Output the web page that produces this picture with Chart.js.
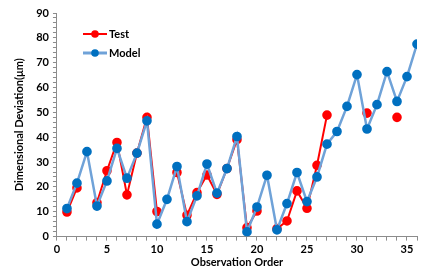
<!DOCTYPE html>
<html>
<head>
<meta charset="utf-8">
<script src="https://cdn.jsdelivr.net/npm/chart.js@4"></script>
<style>
  html, body { margin: 0; padding: 0; background: #fff; }
  #wrap { width: 432px; height: 274px; }
</style>
</head>
<body>
<div id="wrap"><canvas id="chart" width="432" height="274"></canvas></div>
<script>
const order = [1, 2, 3, 4, 5, 6, 7, 8, 9, 10, 11, 12, 13, 14, 15, 16, 17, 18,
    19, 20, 21, 22, 23, 24, 25, 26, 27, 28, 29, 30, 31, 32, 33, 34, 35, 36];
const testValues = [9.9, 19.6, null, 13.7, 26.5, 37.9, 16.8, 33.6, 48, 10.1, null, 25.8,
    8.6, 17.7, 24.8, 17, 27.4, 39, 3.6, 10.3, null, 3.2, 6.3, 18.4, 11.4, 28.7, 48.9,
    null, null, null, 49.7, null, null, 48, null, null];
const modelValues = [11.3, 21.5, 34.2, 12.3, 22.4, 35.5, 23.5, 33.6, 46.6, 5, 15, 28.2,
    6, 16.4, 29.2, 17.5, 27.4, 40.3, 1.9, 11.9, 24.7, 2.7, 13.3, 25.8, 14.1, 24, 37.2,
    42.3, 52.4, 65.2, 43.3, 53.1, 66.4, 54.4, 64.4, 77.5];
const xTickLabels = [0, 5, 10, 15, 20, 25, 30, 35];
const yTickLabels = [0, 10, 20, 30, 40, 50, 60, 70, 80, 90];

const toPoints = vals => order.map((x, i) => ({ x: x, y: vals[i] }));
const fontFamily = 'Lato, "Liberation Sans", sans-serif';
const axisGray = '#8c8c8c';

// legend drawn inside the plot, top-left
const insideLegend = {
    id: 'insideLegend',
    afterDraw(chart) {
        const ctx = chart.ctx;
        const items = [
            { text: 'Test', line: '#ff0000', dot: '#ff0000', lw: 2, y: 34 },
            { text: 'Model', line: '#6fa2d8', dot: '#0070c0', lw: 3, y: 53 }
        ];
        ctx.save();
        items.forEach(it => {
            ctx.strokeStyle = it.line;
            ctx.lineWidth = it.lw;
            ctx.beginPath();
            ctx.moveTo(83, it.y);
            ctx.lineTo(107, it.y);
            ctx.stroke();
            ctx.fillStyle = it.dot;
            ctx.beginPath();
            ctx.arc(95, it.y, 3.8, 0, Math.PI * 2);
            ctx.fill();
            ctx.fillStyle = '#000';
            ctx.font = 'bold 11px ' + fontFamily;
            ctx.textBaseline = 'middle';
            ctx.fillText(it.text, 109, it.y);
        });
        ctx.restore();
    }
};

new Chart(document.getElementById('chart'), {
    type: 'line',
    data: {
        // first dataset is painted last, so Model sits on top of Test
        datasets: [
            {
                label: 'Model',
                data: toPoints(modelValues),
                borderColor: '#6fa2d8',
                backgroundColor: '#0070c0',
                pointBackgroundColor: '#0070c0',
                pointBorderColor: '#0070c0',
                borderWidth: 2.5,
                pointRadius: 3.6,
                tension: 0
            },
            {
                label: 'Test',
                data: toPoints(testValues),
                borderColor: '#ff0000',
                backgroundColor: '#ff0000',
                pointBackgroundColor: '#ff0000',
                pointBorderColor: '#ff0000',
                borderWidth: 2,
                pointRadius: 3.8,
                tension: 0,
                spanGaps: false
            }
        ]
    },
    options: {
        responsive: false,
        animation: false,
        layout: { padding: { top: 13, right: 15, bottom: 5, left: 13 } },
        plugins: {
            legend: { display: false },
            tooltip: { enabled: false }
        },
        scales: {
            x: {
                type: 'linear',
                min: 0,
                max: 36,
                border: { color: axisGray, width: 1 },
                grid: { drawOnChartArea: false, color: axisGray, tickLength: 4,
                    tickColor: axisGray },
                ticks: {
                    stepSize: 1,
                    autoSkip: false,
                    maxRotation: 0,
                    padding: 2,
                    color: '#000',
                    font: { family: fontFamily, size: 11, weight: 'bold' },
                    callback: v => xTickLabels.includes(v) ? String(v) : ''
                },
                title: {
                    display: true,
                    text: 'Observation Order',
                    color: '#000',
                    padding: { top: -2, bottom: 0 },
                    font: { family: fontFamily, size: 11, weight: 'bold' }
                }
            },
            y: {
                min: 0,
                max: 90,
                border: { color: axisGray, width: 1 },
                grid: { drawOnChartArea: false, color: axisGray, tickLength: 4,
                    tickColor: axisGray },
                ticks: {
                    stepSize: 2,
                    autoSkip: false,
                    padding: 4,
                    color: '#000',
                    font: { family: fontFamily, size: 11, weight: 'bold' },
                    callback: v => yTickLabels.includes(v) ? String(v) : ''
                },
                title: {
                    display: true,
                    text: 'Dimensional Deviation(μm)',
                    color: '#000',
                    padding: { top: 0, bottom: 6 },
                    font: { family: fontFamily, size: 11, weight: 'bold' }
                }
            }
        }
    },
    plugins: [insideLegend]
});
</script>
</body>
</html>
